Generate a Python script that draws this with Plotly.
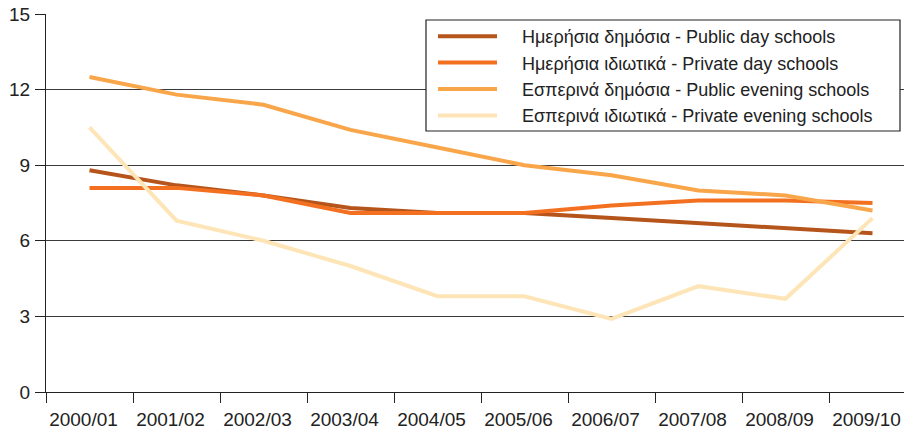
import plotly.graph_objects as go

years = ["2000/01", "2001/02", "2002/03", "2003/04", "2004/05",
         "2005/06", "2006/07", "2007/08", "2008/09", "2009/10"]
public_day = [8.8, 8.2, 7.8, 7.3, 7.1, 7.1, 6.9, 6.7, 6.5, 6.3]
private_day = [8.1, 8.1, 7.8, 7.1, 7.1, 7.1, 7.4, 7.6, 7.6, 7.5]
public_evening = [12.5, 11.8, 11.4, 10.4, 9.7, 9.0, 8.6, 8.0, 7.8, 7.2]
private_evening = [10.5, 6.8, 6.0, 5.0, 3.8, 3.8, 2.9, 4.2, 3.7, 6.9]

names = ["Ημερήσια δημόσια - Public day schools",
         "Ημερήσια ιδιωτικά - Private day schools",
         "Εσπερινά δημόσια - Public evening schools",
         "Εσπερινά ιδιωτικά - Private evening schools"]
colors = ["#b5541b", "#f37021", "#f9a64b", "#fee5b7"]
series = [public_day, private_day, public_evening, private_evening]
yticks = [0, 3, 6, 9, 12, 15]

fig = go.Figure()
for n, c, s in zip(names, colors, series):
    fig.add_trace(go.Scatter(x=years, y=s, name="\u00a0\u00a0\u00a0\u00a0" + n, mode="lines",
                             line=dict(color=c, width=4)))

W, H = 904, 430
plot_left, plot_right, plot_top, plot_bottom = 46, 904, 14, 392
ml = plot_left
mr = W - plot_right
mt = plot_top
mb = H - plot_bottom
pw = W - ml - mr
ph = H - mt - mb
cat_px = 87.0

def px_x(p):
    return (p - plot_left) / pw

def px_y(p):
    return (plot_bottom - p) / ph

fig.update_layout(
    width=W, height=H,
    margin=dict(l=ml, r=mr, t=mt, b=mb, pad=0, autoexpand=False),
    paper_bgcolor="white", plot_bgcolor="white",
    font=dict(family="Liberation Sans, Arial, sans-serif", size=18, color="#222222"),
    showlegend=True,
    legend=dict(x=px_x(433), y=px_y(18), xanchor="left", yanchor="top",
                bgcolor="rgba(0,0,0,0)", borderwidth=0,
                itemwidth=59, font=dict(size=18, color="#222222"),
                tracegroupgap=0),
    xaxis=dict(type="category", range=[-0.5, -0.5 + pw / cat_px],
               automargin=False, ticklabeloverflow="allow",
               showline=True, linecolor="#222222", linewidth=1,
               ticks="outside", tickson="boundaries", ticklen=10,
               tickcolor="#222222", tickwidth=1,
               showgrid=False, ticklabelshift=-6, ticklabelstandoff=10,
               tickfont=dict(size=19, color="#222222")),
    yaxis=dict(range=[0, 15], tickvals=yticks, ticktext=[str(v) for v in yticks],
               automargin=False, ticklabeloverflow="allow",
               showline=True, linecolor="#222222", linewidth=1,
               ticks="outside", ticklen=10, tickcolor="#222222", tickwidth=1,
               showgrid=True, gridcolor="#3a3a3a", gridwidth=1,
               zeroline=False, ticklabelstandoff=1,
               tickfont=dict(size=19, color="#222222")),
    shapes=[dict(type="rect", xref="paper", yref="paper",
                 x0=px_x(426), x1=px_x(900), y0=px_y(131), y1=px_y(20),
                 line=dict(color="#222222", width=1.2), fillcolor="white",
                 layer="above")],
)

fig.write_html("out.html", config={"displayModeBar": False},
               post_script="document.body.style.margin='0';document.body.style.overflow='hidden';")
